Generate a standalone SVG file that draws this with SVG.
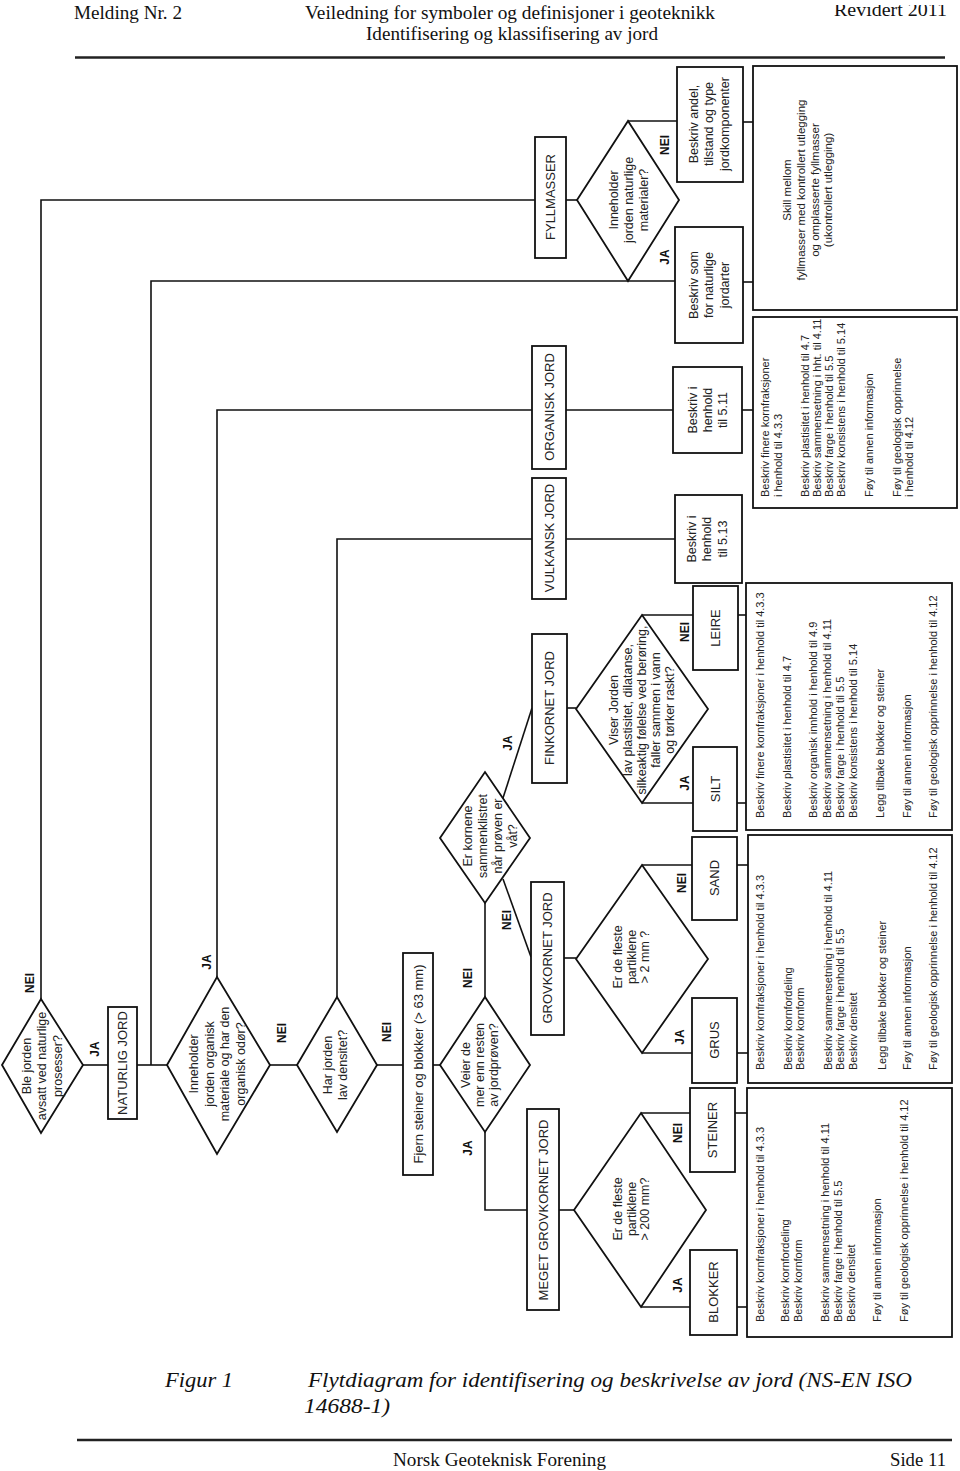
<svg xmlns="http://www.w3.org/2000/svg" width="960" height="1471" viewBox="0 0 960 1471">
<defs>
<style>
.hd{font-family:"Liberation Serif","Times New Roman",serif;font-size:19px;fill:#111}
.cap{font-family:"Liberation Serif","Times New Roman",serif;font-size:21px;font-style:italic;fill:#111}
.t{font-family:"Liberation Sans",Arial,sans-serif;font-size:12.5px;fill:#222;text-anchor:middle}
.b{font-family:"Liberation Sans",Arial,sans-serif;font-size:13px;fill:#222;text-anchor:middle}
.s{font-family:"Liberation Sans",Arial,sans-serif;font-size:11px;fill:#222}
.sk{font-family:"Liberation Sans",Arial,sans-serif;font-size:11.5px;fill:#222;text-anchor:middle}
.lbl{font-family:"Liberation Sans",Arial,sans-serif;font-size:12px;font-weight:bold;fill:#111;text-anchor:middle}
.ln{fill:none;stroke:#111;stroke-width:1.6}
.bx{fill:#fff;stroke:#111;stroke-width:1.8}
.rule{stroke:#222;stroke-width:2.5}
</style>
<clipPath id="revclip"><rect x="800" y="5" width="160" height="40"/></clipPath>
</defs>
<rect width="960" height="1471" fill="#fff"/>

<g id="header">
<text class="hd" x="74" y="19" textLength="108" lengthAdjust="spacingAndGlyphs">Melding Nr. 2</text>
<text class="hd" x="305" y="19" textLength="410" lengthAdjust="spacingAndGlyphs">Veiledning for symboler og definisjoner i geoteknikk</text>
<text class="hd" x="366" y="40" textLength="292" lengthAdjust="spacingAndGlyphs">Identifisering og klassifisering av jord</text>
<text class="hd" x="834" y="16" textLength="113" lengthAdjust="spacingAndGlyphs" clip-path="url(#revclip)">Revidert 2011</text>
<line class="rule" x1="75" y1="57.5" x2="945" y2="57.5"/>
</g>

<g id="connectors">
<path class="ln" d="M41,999 V200 H535"/>
<path class="ln" d="M566,200 H577"/>
<path class="ln" d="M628,121 H677"/>
<path class="ln" d="M151,1065 V281 H675"/>
<path class="ln" d="M743,122 H753"/>
<path class="ln" d="M743,282 H753"/>
<path class="ln" d="M217,977 V410 H532"/>
<path class="ln" d="M566,410 H673"/>
<path class="ln" d="M742,410 H753"/>
<path class="ln" d="M83,1065 H108"/>
<path class="ln" d="M137,1065 H167"/>
<path class="ln" d="M270,1065 H297"/>
<path class="ln" d="M337,997 V539 H532"/>
<path class="ln" d="M566,539 H675"/>
<path class="ln" d="M377,1065 H403"/>
<path class="ln" d="M433,1065 H440"/>
<path class="ln" d="M485,997 V903"/>
<path class="ln" d="M503,798 L532,708"/>
<path class="ln" d="M503,879 L531,957"/>
<path class="ln" d="M485,1132 V1210 H527"/>
<path class="ln" d="M559,1210 H574"/>
<path class="ln" d="M641,1113 H690"/>
<path class="ln" d="M641,1307 H690"/>
<path class="ln" d="M735,1113 H747"/>
<path class="ln" d="M737,1307 H747"/>
<path class="ln" d="M564,958 H576"/>
<path class="ln" d="M642,865 H692"/>
<path class="ln" d="M642,1053 H692"/>
<path class="ln" d="M737,865 H748"/>
<path class="ln" d="M737,1053 H748"/>
<path class="ln" d="M567,708 H576"/>
<path class="ln" d="M642,615 H693"/>
<path class="ln" d="M642,803 H693"/>
<path class="ln" d="M738,615 H746"/>
<path class="ln" d="M737,803 H746"/>
<!-- JA / NEI labels -->
<text class="lbl" transform="translate(0,983) rotate(-90)" x="0" y="34">NEI</text>
<text class="lbl" transform="translate(0,1049) rotate(-90)" x="0" y="99">JA</text>
<text class="lbl" transform="translate(0,962) rotate(-90)" x="0" y="211">JA</text>
<text class="lbl" transform="translate(0,1033) rotate(-90)" x="0" y="286">NEI</text>
<text class="lbl" transform="translate(0,1032) rotate(-90)" x="0" y="391">NEI</text>
<text class="lbl" transform="translate(0,978) rotate(-90)" x="0" y="472">NEI</text>
<text class="lbl" transform="translate(0,1148) rotate(-90)" x="0" y="472">JA</text>
<text class="lbl" transform="translate(0,743) rotate(-90)" x="0" y="512">JA</text>
<text class="lbl" transform="translate(0,920) rotate(-90)" x="0" y="511">NEI</text>
<text class="lbl" transform="translate(0,145) rotate(-90)" x="0" y="669">NEI</text>
<text class="lbl" transform="translate(0,257) rotate(-90)" x="0" y="669">JA</text>
<text class="lbl" transform="translate(0,632) rotate(-90)" x="0" y="689">NEI</text>
<text class="lbl" transform="translate(0,783) rotate(-90)" x="0" y="689">JA</text>
<text class="lbl" transform="translate(0,883) rotate(-90)" x="0" y="686">NEI</text>
<text class="lbl" transform="translate(0,1037) rotate(-90)" x="0" y="684">JA</text>
<text class="lbl" transform="translate(0,1133) rotate(-90)" x="0" y="682">NEI</text>
<text class="lbl" transform="translate(0,1285) rotate(-90)" x="0" y="682">JA</text>
</g>

<g id="n-ble">
<polygon class="bx" points="2,1065 41,999 83,1065 41,1133"/>
<text class="t" transform="translate(0,1066) rotate(-90)"><tspan x="0" y="31">Ble jorden</tspan><tspan x="0" y="46">avsatt ved naturlige</tspan><tspan x="0" y="62">prosesser?</tspan></text>
</g>
<g id="n-naturlig">
<rect class="bx" x="108" y="1007" width="29" height="112"/>
<text class="b" transform="translate(0,1063) rotate(-90)" x="0" y="127">NATURLIG JORD</text>
</g>
<g id="n-organisk-q">
<polygon class="bx" points="167,1065 217,977 270,1065 217,1154"/>
<text class="t" transform="translate(0,1064) rotate(-90)"><tspan x="0" y="198">Inneholder</tspan><tspan x="0" y="214">jorden organisk</tspan><tspan x="0" y="229">materiale og  har den</tspan><tspan x="0" y="245">organisk odør?</tspan></text>
</g>
<g id="n-densitet">
<polygon class="bx" points="297,1065 337,997 377,1065 337,1132"/>
<text class="t" transform="translate(0,1065) rotate(-90)"><tspan x="0" y="332">Har jorden</tspan><tspan x="0" y="347">lav densitet?</tspan></text>
</g>
<g id="n-fjern">
<rect class="bx" x="403" y="953" width="30" height="222"/>
<text class="b" transform="translate(0,1064) rotate(-90)" x="0" y="423">Fjern steiner  og blokker  (&gt; 63 mm)</text>
</g>
<g id="n-veier">
<polygon class="bx" points="440,1065 485,997 530,1065 485,1132"/>
<text class="t" transform="translate(0,1065) rotate(-90)"><tspan x="0" y="470">Veier de</tspan><tspan x="0" y="484">mer enn resten</tspan><tspan x="0" y="498">av jordprøven?</tspan></text>
</g>
<g id="n-klistret">
<polygon class="bx" points="440,838 485,772 530,838 485,903"/>
<text class="t" transform="translate(0,836) rotate(-90)"><tspan x="0" y="472">Er kornene</tspan><tspan x="0" y="487">sammenklistret</tspan><tspan x="0" y="502">når prøven er</tspan><tspan x="0" y="517">våt?</tspan></text>
</g>
<g id="n-meget">
<rect class="bx" x="527" y="1109" width="32" height="201"/>
<text class="b" transform="translate(0,1210) rotate(-90)" x="0" y="548">MEGET GROVKORNET JORD</text>
</g>
<g id="n-grov">
<rect class="bx" x="531" y="882" width="33" height="153"/>
<text class="b" transform="translate(0,958) rotate(-90)" x="0" y="552">GROVKORNET JORD</text>
</g>
<g id="n-fin">
<rect class="bx" x="532" y="634" width="35" height="149"/>
<text class="b" transform="translate(0,708) rotate(-90)" x="0" y="554">FINKORNET JORD</text>
</g>
<g id="n-vulkansk">
<rect class="bx" x="532" y="478" width="34" height="121"/>
<text class="b" transform="translate(0,538) rotate(-90)" x="0" y="554">VULKANSK JORD</text>
</g>
<g id="n-organisk">
<rect class="bx" x="532" y="346" width="34" height="123"/>
<text class="b" transform="translate(0,407) rotate(-90)" x="0" y="554">ORGANISK JORD</text>
</g>
<g id="n-fyll">
<rect class="bx" x="535" y="137" width="31" height="121"/>
<text class="b" transform="translate(0,197) rotate(-90)" x="0" y="555">FYLLMASSER</text>
</g>
<g id="n-fyll-q">
<polygon class="bx" points="577,200 628,121 679,200 628,281"/>
<text class="t" transform="translate(0,200) rotate(-90)"><tspan x="0" y="618">Inneholder</tspan><tspan x="0" y="633">jorden naturlige</tspan><tspan x="0" y="648">materialer?</tspan></text>
</g>
<g id="n-andel">
<rect class="bx" x="677" y="67" width="66" height="115"/>
<text class="t" transform="translate(0,124) rotate(-90)"><tspan x="0" y="698">Beskriv andel,</tspan><tspan x="0" y="713">tilstand og type</tspan><tspan x="0" y="729">jordkomponenter</tspan></text>
</g>
<g id="n-som">
<rect class="bx" x="675" y="227" width="68" height="116"/>
<text class="t" transform="translate(0,285) rotate(-90)"><tspan x="0" y="698">Beskriv som</tspan><tspan x="0" y="713">for naturlige</tspan><tspan x="0" y="729">jordarter</tspan></text>
</g>
<g id="n-511">
<rect class="bx" x="673" y="367" width="69" height="86"/>
<text class="t" transform="translate(0,410) rotate(-90)"><tspan x="0" y="697">Beskriv i</tspan><tspan x="0" y="712">henhold</tspan><tspan x="0" y="727">til 5.11</tspan></text>
</g>
<g id="n-513">
<rect class="bx" x="675" y="495" width="67" height="88"/>
<text class="t" transform="translate(0,539) rotate(-90)"><tspan x="0" y="696">Beskriv i</tspan><tspan x="0" y="711">henhold</tspan><tspan x="0" y="727">til 5.13</tspan></text>
</g>
<g id="n-skill">
<rect class="bx" x="753" y="66" width="204" height="244"/>
<text class="sk" transform="translate(0,190) rotate(-90)"><tspan x="0" y="791">Skill  mellom</tspan><tspan x="0" y="805">fyllmasser med kontrollert utlegging</tspan><tspan x="0" y="819">og omplasserte fyllmasser</tspan><tspan x="0" y="832">(ukontrollert utlegging)</tspan></text>
</g>
<g id="n-txt-org">
<rect class="bx" x="753" y="317" width="204" height="191"/>
<text class="s" transform="translate(0,497) rotate(-90)"><tspan x="0" y="769">Beskriv  finere kornfraksjoner</tspan><tspan x="0" y="782">i henhold til 4.3.3</tspan><tspan x="0" y="809">Beskriv  plastisitet i henhold til 4.7</tspan><tspan x="0" y="821">Beskriv  sammensetning i hht. til 4.11</tspan><tspan x="0" y="833">Beskriv  farge i henhold til 5.5</tspan><tspan x="0" y="845">Beskriv  konsistens i henhold til 5.14</tspan><tspan x="0" y="873">Føy til annen informasjon</tspan><tspan x="0" y="901">Føy til geologisk opprinnelse</tspan><tspan x="0" y="913">i henhold til 4.12</tspan></text>
</g>
<g id="n-qfin">
<polygon class="bx" points="576,709 642,615 708,709 642,803"/>
<text class="t" transform="translate(0,710) rotate(-90)"><tspan x="0" y="618">Viser  Jorden</tspan><tspan x="0" y="632">lav plastisitet, dilatanse,</tspan><tspan x="0" y="646">silkeaktig følelse ved berøring,</tspan><tspan x="0" y="660">faller sammen i vann</tspan><tspan x="0" y="674">og tørker raskt?</tspan></text>
</g>
<g id="n-q2">
<polygon class="bx" points="576,959 642,865 708,959 642,1053"/>
<text class="t" transform="translate(0,957) rotate(-90)"><tspan x="0" y="622">Er de fleste</tspan><tspan x="0" y="636">partiklene</tspan><tspan x="0" y="649">&gt; 2 mm ?</tspan></text>
</g>
<g id="n-q200">
<polygon class="bx" points="574,1210 641,1113 706,1210 641,1307"/>
<text class="t" transform="translate(0,1209) rotate(-90)"><tspan x="0" y="622">Er de fleste</tspan><tspan x="0" y="636">partiklene</tspan><tspan x="0" y="649">&gt; 200 mm?</tspan></text>
</g>
<g id="n-leire">
<rect class="bx" x="693" y="586" width="45" height="84"/>
<text class="b" transform="translate(0,628) rotate(-90)" x="0" y="720">LEIRE</text>
</g>
<g id="n-silt">
<rect class="bx" x="693" y="747" width="44" height="84"/>
<text class="b" transform="translate(0,789) rotate(-90)" x="0" y="720">SILT</text>
</g>
<g id="n-sand">
<rect class="bx" x="692" y="837" width="45" height="83"/>
<text class="b" transform="translate(0,878) rotate(-90)" x="0" y="719">SAND</text>
</g>
<g id="n-grus">
<rect class="bx" x="692" y="998" width="45" height="85"/>
<text class="b" transform="translate(0,1040) rotate(-90)" x="0" y="719">GRUS</text>
</g>
<g id="n-steiner">
<rect class="bx" x="690" y="1088" width="45" height="84"/>
<text class="b" transform="translate(0,1130) rotate(-90)" x="0" y="717">STEINER</text>
</g>
<g id="n-blokker">
<rect class="bx" x="690" y="1250" width="47" height="85"/>
<text class="b" transform="translate(0,1292) rotate(-90)" x="0" y="718">BLOKKER</text>
</g>
<g id="n-txt-fin">
<rect class="bx" x="746" y="583" width="206" height="247"/>
<text class="s" transform="translate(0,818) rotate(-90)"><tspan x="0" y="764">Beskriv  finere kornfraksjoner i henhold til 4.3.3</tspan><tspan x="0" y="791">Beskriv  plastisitet i henhold til 4.7</tspan><tspan x="0" y="817">Beskriv  organisk innhold i henhold til 4.9</tspan><tspan x="0" y="831">Beskriv  sammensetning i henhold til 4.11</tspan><tspan x="0" y="844">Beskriv  farge i henhold til 5.5</tspan><tspan x="0" y="857">Beskriv  konsistens i henhold til 5.14</tspan><tspan x="0" y="884">Legg tilbake blokker og steiner</tspan><tspan x="0" y="911">Føy til annen informasjon</tspan><tspan x="0" y="937">Føy til geologisk opprinnelse i henhold til 4.12</tspan></text>
</g>
<g id="n-txt-grov">
<rect class="bx" x="748" y="835" width="204" height="248"/>
<text class="s" transform="translate(0,1070) rotate(-90)"><tspan x="0" y="764">Beskriv  kornfraksjoner i henhold til 4.3.3</tspan><tspan x="0" y="792">Beskriv  kornfordeling</tspan><tspan x="0" y="804">Beskriv  kornform</tspan><tspan x="0" y="832">Beskriv  sammensetning i henhold til 4.11</tspan><tspan x="0" y="844">Beskriv  farge i henhold til 5.5</tspan><tspan x="0" y="857">Beskriv  densitet</tspan><tspan x="0" y="886">Legg tilbake blokker og steiner</tspan><tspan x="0" y="911">Føy til annen informasjon</tspan><tspan x="0" y="937">Føy til geologisk opprinnelse i henhold til 4.12</tspan></text>
</g>
<g id="n-txt-meget">
<rect class="bx" x="747" y="1088" width="205" height="249"/>
<text class="s" transform="translate(0,1322) rotate(-90)"><tspan x="0" y="764">Beskriv  kornfraksjoner i henhold til 4.3.3</tspan><tspan x="0" y="789">Beskriv  kornfordeling</tspan><tspan x="0" y="802">Beskriv  kornform</tspan><tspan x="0" y="829">Beskriv  sammensetning i henhold til 4.11</tspan><tspan x="0" y="842">Beskriv  farge i henhold til 5.5</tspan><tspan x="0" y="855">Beskriv  densitet</tspan><tspan x="0" y="881">Føy til annen informasjon</tspan><tspan x="0" y="908">Føy til geologisk opprinnelse i henhold til 4.12</tspan></text>
</g>

<g id="footer">
<text class="cap" x="165" y="1387" textLength="68" lengthAdjust="spacingAndGlyphs">Figur 1</text>
<text class="cap" x="308" y="1387" textLength="604" lengthAdjust="spacingAndGlyphs">Flytdiagram for identifisering og beskrivelse av jord (NS-EN ISO</text>
<text class="cap" x="304" y="1413" textLength="86" lengthAdjust="spacingAndGlyphs">14688-1)</text>
<line class="rule" x1="77" y1="1440" x2="952" y2="1440"/>
<text class="hd" x="393" y="1466" textLength="213" lengthAdjust="spacingAndGlyphs">Norsk Geoteknisk Forening</text>
<text class="hd" x="890" y="1466" textLength="56" lengthAdjust="spacingAndGlyphs">Side 11</text>
</g>
</svg>
